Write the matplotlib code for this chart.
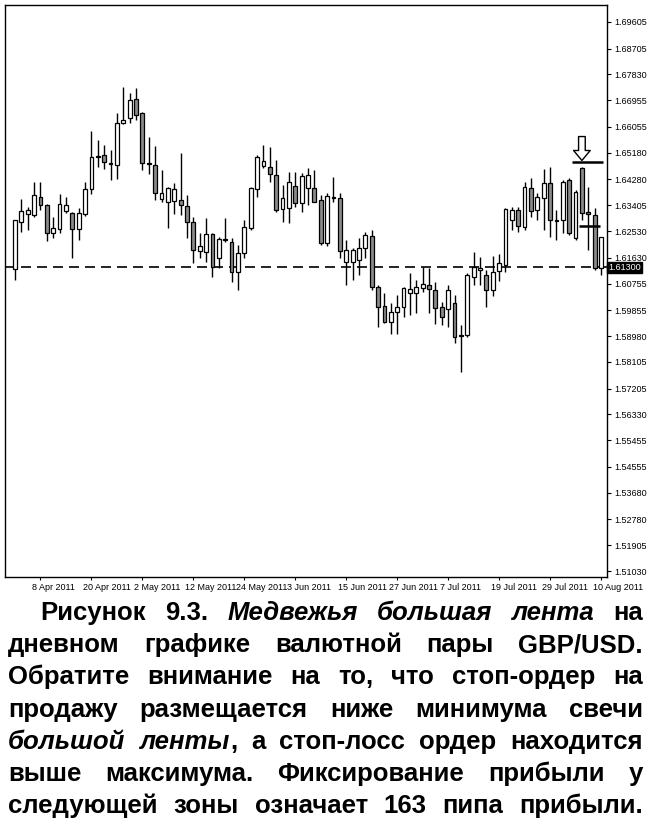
"""
Дневной график GBP/USD: медвежья большая лента (рисунок 9.3)
"""
import matplotlib.pyplot as plt
import matplotlib.transforms as mtransforms
from matplotlib.patches import Rectangle

# дневные свечи с 4 Apr 2011 по 10 Aug 2011
opens = [1.6124, 1.6284, 1.6311, 1.6308, 1.6369, 1.6342, 1.6247, 1.6260, 1.6321, 1.6315,
         1.6260, 1.6311, 1.6396, 1.6504, 1.6511, 1.6484, 1.6477, 1.6619, 1.6636, 1.6700,
         1.6653, 1.6484, 1.6477, 1.6362, 1.6352, 1.6355, 1.6358, 1.6338, 1.6284, 1.6186,
         1.6183, 1.6243, 1.6162, 1.6226, 1.6216, 1.6115, 1.6179, 1.6264, 1.6396, 1.6473,
         1.6470, 1.6443, 1.6328, 1.6331, 1.6406, 1.6348, 1.6399, 1.6399, 1.6358, 1.6213,
         1.6369, 1.6365, 1.6149, 1.6149, 1.6155, 1.6196, 1.6237, 1.6064, 1.6000, 1.5946,
         1.5980, 1.5996, 1.6044, 1.6044, 1.6061, 1.6071, 1.6054, 1.5996, 1.5990, 1.6010,
         1.5902, 1.5902, 1.6098, 1.6122, 1.6105, 1.6054, 1.6118, 1.6139, 1.6291, 1.6325,
         1.6267, 1.6399, 1.6325, 1.6365, 1.6416, 1.6291, 1.6291, 1.6426, 1.6230, 1.6467,
         1.6318, 1.6308, 1.6128]
highs = [1.6291, 1.6362, 1.6335, 1.6419, 1.6419, 1.6345, 1.6301, 1.6379, 1.6369, 1.6318,
         1.6331, 1.6419, 1.6592, 1.6561, 1.6544, 1.6528, 1.6653, 1.6741, 1.6721, 1.6738,
         1.6656, 1.6571, 1.6541, 1.6460, 1.6402, 1.6416, 1.6517, 1.6375, 1.6301, 1.6247,
         1.6298, 1.6247, 1.6233, 1.6298, 1.6230, 1.6206, 1.6291, 1.6402, 1.6511, 1.6544,
         1.6538, 1.6494, 1.6409, 1.6453, 1.6453, 1.6450, 1.6467, 1.6460, 1.6375, 1.6382,
         1.6436, 1.6382, 1.6223, 1.6196, 1.6230, 1.6250, 1.6257, 1.6071, 1.6044, 1.6010,
         1.6037, 1.6064, 1.6112, 1.6088, 1.6132, 1.6128, 1.6081, 1.6013, 1.6071, 1.6037,
         1.5936, 1.6112, 1.6183, 1.6166, 1.6122, 1.6169, 1.6176, 1.6331, 1.6335, 1.6335,
         1.6419, 1.6433, 1.6382, 1.6463, 1.6470, 1.6325, 1.6426, 1.6433, 1.6392, 1.6470,
         1.6402, 1.6331, 1.6233]
lows = [1.6088, 1.6250, 1.6257, 1.6301, 1.6325, 1.6220, 1.6230, 1.6247, 1.6315, 1.6162,
        1.6223, 1.6304, 1.6379, 1.6470, 1.6463, 1.6426, 1.6430, 1.6615, 1.6619, 1.6629,
        1.6460, 1.6446, 1.6358, 1.6352, 1.6264, 1.6311, 1.6308, 1.6230, 1.6145, 1.6162,
        1.6149, 1.6098, 1.6128, 1.6216, 1.6081, 1.6054, 1.6162, 1.6257, 1.6369, 1.6467,
        1.6419, 1.6318, 1.6284, 1.6281, 1.6335, 1.6318, 1.6342, 1.6352, 1.6206, 1.6203,
        1.6352, 1.6162, 1.6071, 1.6088, 1.6105, 1.6162, 1.6054, 1.5929, 1.5942, 1.5905,
        1.5905, 1.5963, 1.5969, 1.5976, 1.6047, 1.5976, 1.5939, 1.5935, 1.5929, 1.5875,
        1.5776, 1.5895, 1.6071, 1.6071, 1.5996, 1.6034, 1.6084, 1.6115, 1.6257, 1.6250,
        1.6257, 1.6301, 1.6291, 1.6257, 1.6233, 1.6223, 1.6247, 1.6240, 1.6223, 1.6291,
        1.6189, 1.6122, 1.6105]
closes = [1.6291, 1.6322, 1.6325, 1.6375, 1.6342, 1.6247, 1.6264, 1.6345, 1.6342, 1.6260,
          1.6315, 1.6396, 1.6504, 1.6507, 1.6487, 1.6480, 1.6619, 1.6629, 1.6697, 1.6646,
          1.6484, 1.6480, 1.6382, 1.6382, 1.6399, 1.6396, 1.6342, 1.6284, 1.6189, 1.6203,
          1.6243, 1.6132, 1.6226, 1.6223, 1.6115, 1.6179, 1.6267, 1.6399, 1.6504, 1.6490,
          1.6446, 1.6325, 1.6365, 1.6419, 1.6348, 1.6440, 1.6443, 1.6352, 1.6213, 1.6372,
          1.6365, 1.6186, 1.6189, 1.6189, 1.6196, 1.6240, 1.6064, 1.5996, 1.5946, 1.5980,
          1.5996, 1.6061, 1.6057, 1.6064, 1.6074, 1.6057, 1.5993, 1.5963, 1.6054, 1.5895,
          1.5898, 1.6105, 1.6132, 1.6128, 1.6054, 1.6115, 1.6145, 1.6328, 1.6325, 1.6270,
          1.6402, 1.6321, 1.6369, 1.6416, 1.6291, 1.6288, 1.6419, 1.6247, 1.6385, 1.6315,
          1.6311, 1.6128, 1.6233]

date_labels = ["8 Apr 2011", "20 Apr 2011", "2 May 2011", "12 May 2011", "24 May 2011",
               "3 Jun 2011", "15 Jun 2011", "27 Jun 2011", "7 Jul 2011", "19 Jul 2011",
               "29 Jul 2011", "10 Aug 2011"]
date_bars = [4, 12, 20, 28, 36, 44, 52, 60, 68, 76, 84, 92]

price_ticks = [1.69605, 1.68705, 1.67830, 1.66955, 1.66055, 1.65180, 1.64280, 1.63405,
               1.62530, 1.61630, 1.60755, 1.59855, 1.58980, 1.58105, 1.57205, 1.56330,
               1.55455, 1.54555, 1.53680, 1.52780, 1.51905, 1.51030]

level = 1.61300       # уровень поддержки (пунктир)
belt_bar = 89         # свеча большой ленты
stop_loss = 1.6487    # стоп-лосс выше максимума
sell_stop = 1.6271    # стоп-ордер ниже минимума

caption = [
    "Рисунок 9.3. *Медвежья большая лента* на",
    "дневном графике валютной пары GBP/USD.",
    "Обратите внимание на то, что стоп-ордер на",
    "продажу размещается ниже минимума свечи",
    "*большой ленты*, а стоп-лосс ордер находится",
    "выше максимума. Фиксирование прибыли у",
    "следующей зоны означает 163 пипа прибыли.",
]

plt.rcParams['font.family'] = ['Liberation Sans', 'DejaVu Sans']

W, H = 650, 827
fig = plt.figure(figsize=(W / 100, H / 100), dpi=100)
ax = fig.add_axes([5 / W, 1 - 577 / H, 602 / W, 572 / H])

# свечи
for i in range(len(opens)):
    o, h, l, c = opens[i], highs[i], lows[i], closes[i]
    ax.vlines(i, l, h, color='black', lw=1.0, zorder=2)
    face = 'white' if c >= o else '#8a8a8a'
    ax.add_patch(Rectangle((i - 0.3, min(o, c)), 0.6, max(abs(c - o), 0.00005),
                           facecolor=face, edgecolor='black', lw=0.9, zorder=3))

ax.axhline(level, color='black', lw=1.2, ls=(0, (6, 3.6)), zorder=1)
ax.text(1.002, level, "%.5f" % level, transform=ax.get_yaxis_transform(),
        va='center', ha='left', fontsize=6.5, color='white', zorder=5, clip_on=False,
        bbox=dict(boxstyle='square,pad=0.15', fc='black', ec='black'))

ax.hlines(stop_loss, belt_bar - 1.6, belt_bar + 3.3, color='black', lw=1.8, zorder=4)
ax.hlines(sell_stop, belt_bar - 0.5, belt_bar + 2.8, color='black', lw=1.8, zorder=4)
ax.annotate('', xy=(belt_bar, stop_loss + 0.0005), xytext=(belt_bar, stop_loss + 0.0086),
            arrowprops=dict(arrowstyle='simple,head_width=1.0,head_length=0.6,tail_width=0.4',
                            fc='white', ec='black', lw=1.0, mutation_scale=12,
                            shrinkA=0, shrinkB=0))

ax.set_xlim(-1.57, 92.94)
ax.set_ylim(1.5083, 1.7018)
ax.yaxis.tick_right()
ax.set_yticks(price_ticks)
ax.set_yticklabels(["%.5f" % p for p in price_ticks])
ax.tick_params(axis='y', length=3, width=0.8, pad=2, labelsize=6.5)
ax.set_xticks(date_bars)
ax.set_xticklabels(date_labels)
ax.tick_params(axis='x', length=2, width=0.8, pad=2, labelsize=6.5)
shift = mtransforms.ScaledTranslation(-0.08, 0, fig.dpi_scale_trans)
for lab in ax.get_xticklabels():
    lab.set_ha('left')
    lab.set_transform(lab.get_transform() + shift)
for sp in ax.spines.values():
    sp.set_linewidth(1.0)

# подпись с выравниванием по ширине
renderer = fig.canvas.get_renderer()
fsize = 18.5
for k, line in enumerate(caption):
    words = []
    italic = False
    for token in line.split(' '):
        pieces = []
        for j, part in enumerate(token.split('*')):
            if j > 0:
                italic = not italic
            if part:
                pieces.append((part, italic))
        words.append(pieces)
    x_left = 40 if k == 0 else 8
    x_right = 643
    y = 1 - (620 + 32.2 * k) / H
    objs = []
    total = 0.0
    for pieces in words:
        row = []
        for part, it in pieces:
            t = fig.text(0, y, part, fontsize=fsize, fontweight='bold',
                         fontstyle='italic' if it else 'normal', va='baseline', ha='left')
            wpx = t.get_window_extent(renderer).width
            row.append((t, wpx))
            total += wpx
        objs.append(row)
    gap = (x_right - x_left - total) / (len(objs) - 1)
    x = x_left
    for row in objs:
        for t, wpx in row:
            t.set_x(x / W)
            x += wpx
        x += gap

fig.savefig('out.png', dpi=100)
